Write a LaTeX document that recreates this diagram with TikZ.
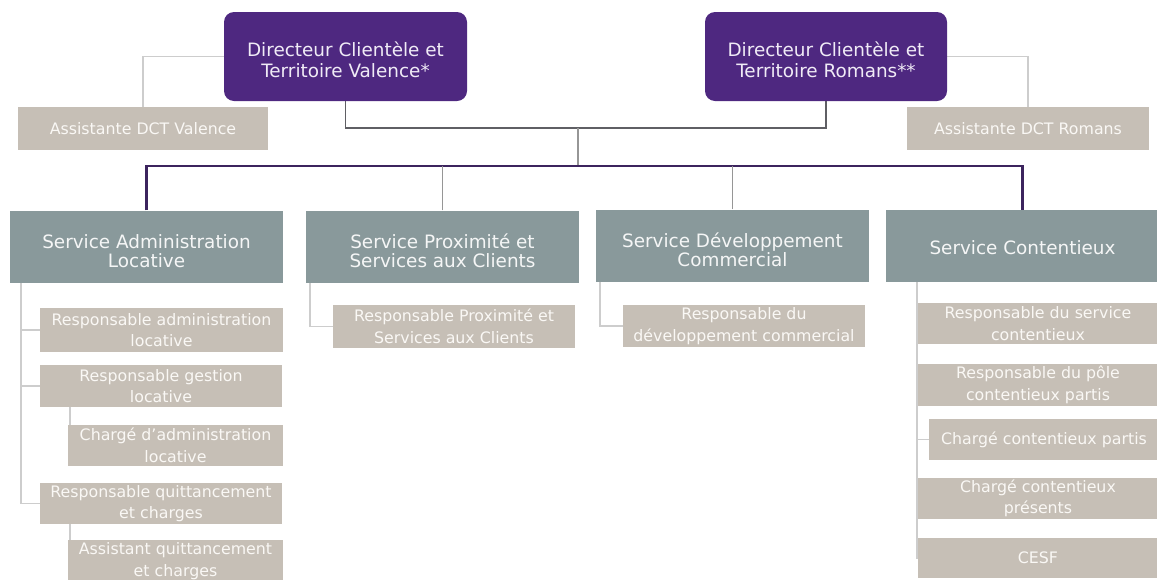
\documentclass[tikz,border=0pt]{standalone}
\usepackage{fontspec}
\setmainfont{DejaVu Sans}
\usepackage{tikz}
\usetikzlibrary{backgrounds}

\definecolor{dctpurple}{RGB}{78,40,128}
\definecolor{barpurple}{RGB}{60,36,94}
\definecolor{svcgrey}{RGB}{137,153,155}
\definecolor{postbeige}{RGB}{198,191,182}
\definecolor{linkgrey}{RGB}{205,205,205}
\definecolor{midgrey}{RGB}{150,150,150}
\definecolor{darklink}{RGB}{95,95,100}

\begin{document}
\begin{tikzpicture}[x=1pt,y=-1pt,
  dct/.style={fill=dctpurple,rounded corners=10pt,text={rgb,255:red,240;green,235;blue,246},align=center,
    minimum width=243pt,minimum height=89pt,inner sep=0pt,text height=43pt,font=\fontsize{18.4}{21}\selectfont},
  svc/.style={fill=svcgrey,text={rgb,255:red,245;green,246;blue,246},align=center,
    minimum width=273pt,minimum height=72pt,inner sep=0pt,text height=43pt,font=\fontsize{18.4}{19.5}\selectfont},
  post/.style={fill=postbeige,text={rgb,255:red,250;green,248;blue,245},align=center,
    minimum width=242pt,minimum height=42pt,inner sep=0pt,font=\fontsize{15.8}{21.5}\selectfont},
  subpost/.style={post,minimum width=215pt},
  thinlink/.style={draw=linkgrey,line width=1.5pt},
  toplink/.style={draw=darklink,line width=1.3pt},
  barlink/.style={draw=barpurple,line width=2.4pt},
  svclink/.style={draw=midgrey,line width=1.5pt}]
\useasboundingbox (0,0) rectangle (1157,579);
\clip (0,0) rectangle (1157,579);

% directors and assistants
\node[dct] (dirV) at (345.5,56.5) {Directeur Clientèle et\\Territoire Valence*};
\node[dct,minimum width=242pt] (dirR) at (826,56.5) {Directeur Clientèle et\\Territoire Romans**};
\node[post,minimum width=250pt,minimum height=43pt] (asV) at (143,128.5) {Assistante DCT Valence};
\node[post,minimum height=43pt] (asR) at (1028,128.5) {Assistante DCT Romans};

% services
\node[svc] (svAdm) at (146.5,246.5) {Service Administration\\Locative};
\node[svc] (svProx) at (442.5,246.5) {Service Proximité et\\Services aux Clients};
\node[svc] (svDev) at (732.5,245.5) {Service Développement\\Commercial};
\node[svc,text height=18pt] (svCont) at (1022.5,246) {Service Contentieux};

% administration locative
\node[post,minimum width=243pt,minimum height=44pt] (rAdm) at (161.5,330) {Responsable administration\\locative};
\node[post] (rGest) at (161,386) {Responsable gestion\\locative};
\node[subpost,minimum height=41pt] (cAdm) at (175.5,445.5) {Chargé d'administration\\locative};
\node[post,minimum height=41pt] (rQuit) at (161,503.5) {Responsable quittancement\\et charges};
\node[subpost] (aQuit) at (175.5,561) {Assistant quittancement\\et charges};

% proximite et developpement
\node[post,minimum height=43pt] (rProx) at (454,326.5) {Responsable Proximité et\\Services aux Clients};
\node[post] (rDev) at (744,326) {Responsable du\\développement commercial};

% contentieux
\node[post,minimum width=240pt,minimum height=41pt] (rServ) at (1038,323.5) {Responsable du service\\contentieux};
\node[post,minimum width=240pt] (rPole) at (1038,385) {Responsable du pôle\\contentieux partis};
\node[post,minimum width=230pt,minimum height=41pt] (cPartis) at (1044,439.5) {Chargé contentieux partis};
\node[post,minimum width=240pt,minimum height=41pt] (cPres) at (1038,498.5) {Chargé contentieux\\présents};
\node[post,minimum width=240pt,minimum height=40pt] (cesf) at (1038,558) {CESF};

\coordinate (join) at (578,128);
\coordinate (bar) at (578,166);
\coordinate (admTrunk) at ([xshift=11pt]svAdm.south west);
\coordinate (contTrunk) at ([xshift=31pt]svCont.south west);

\begin{scope}[on background layer]
\draw[thinlink] (dirV.west) -| (asV.north);
\draw[thinlink] (dirR.east) -| (asR.north);
\draw[toplink] (dirV.south) |- (join);
\draw[toplink] (dirR.south) |- (join);
\draw[svclink] (join) -- (bar);
\draw[barlink] (svAdm.north) |- (bar) -| (svCont.north);
\draw[svclink] (svProx.north) -- (svProx.north |- bar);
\draw[svclink] (svDev.north) -- (svDev.north |- bar);
\draw[thinlink] (admTrunk) |- (rAdm.west);
\draw[thinlink] (admTrunk) |- (rGest.west);
\draw[thinlink] (admTrunk) |- (rQuit.west);
\draw[thinlink] ([xshift=30pt]rGest.south west) |- (cAdm.west);
\draw[thinlink] ([xshift=30pt]rQuit.south west) |- (aQuit.west);
\draw[thinlink] ([xshift=4pt]svProx.south west) |- (rProx.west);
\draw[thinlink] ([xshift=4pt]svDev.south west) |- (rDev.west);
\foreach \post in {rServ,rPole,cPartis,cPres,cesf}
  \draw[thinlink] (contTrunk) |- (\post.west);
\end{scope}
\end{tikzpicture}
\end{document}
